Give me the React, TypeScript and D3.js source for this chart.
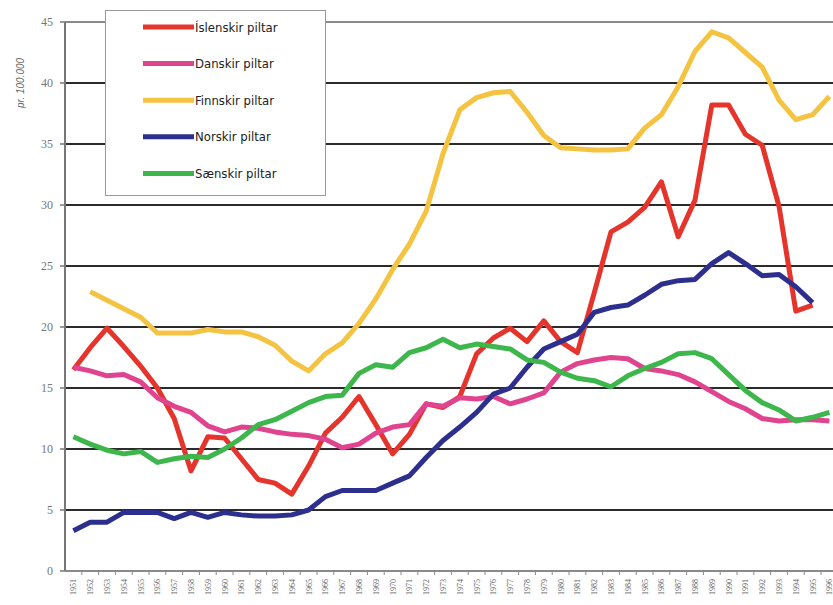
import React from "react";
import * as d3 from "d3";

const years: string[] = d3.range(1951, 1997).map(String);

const iceland: (number | null)[] = [16.5, 18.3, 19.9, 18.4, 16.8, 15.0, 12.5, 8.2, 11.0, 10.9, 9.2, 7.5, 7.2, 6.3, 8.6, 11.3, 12.6, 14.3, 12.0, 9.6, 11.2, 13.7, 13.4, 14.3, 17.8, 19.1, 19.9, 18.8, 20.5, 18.8, 17.9, 22.8, 27.8, 28.6, 29.8, 31.9, 27.4, 30.4, 38.2, 38.2, 35.8, 34.9, 29.9, 21.3, 21.8, null];
const denmark: (number | null)[] = [16.7, 16.4, 16.0, 16.1, 15.5, 14.2, 13.5, 13.0, 11.9, 11.4, 11.8, 11.7, 11.4, 11.2, 11.1, 10.8, 10.1, 10.4, 11.3, 11.8, 12.0, 13.7, 13.5, 14.2, 14.1, 14.3, 13.7, 14.1, 14.6, 16.3, 17.0, 17.3, 17.5, 17.4, 16.6, 16.4, 16.1, 15.5, 14.7, 13.9, 13.3, 12.5, 12.3, 12.4, 12.4, 12.3];
const finland: (number | null)[] = [null, 22.9, 22.2, 21.5, 20.8, 19.5, 19.5, 19.5, 19.8, 19.6, 19.6, 19.2, 18.5, 17.2, 16.4, 17.8, 18.7, 20.3, 22.3, 24.7, 26.8, 29.5, 34.2, 37.8, 38.8, 39.2, 39.3, 37.6, 35.7, 34.7, 34.6, 34.5, 34.5, 34.6, 36.3, 37.4, 39.7, 42.6, 44.2, 43.7, 42.5, 41.3, 38.6, 37.0, 37.4, 38.9];
const norway: (number | null)[] = [3.3, 4.0, 4.0, 4.8, 4.8, 4.8, 4.3, 4.8, 4.4, 4.8, 4.6, 4.5, 4.5, 4.6, 5.0, 6.1, 6.6, 6.6, 6.6, 7.2, 7.8, 9.3, 10.7, 11.8, 13.0, 14.5, 15.0, 16.7, 18.2, 18.8, 19.4, 21.2, 21.6, 21.8, 22.6, 23.5, 23.8, 23.9, 25.2, 26.1, 25.2, 24.2, 24.3, 23.3, 22.0, null];
const sweden: (number | null)[] = [11.0, 10.4, 9.9, 9.6, 9.8, 8.9, 9.2, 9.4, 9.3, 10.0, 10.9, 12.0, 12.4, 13.1, 13.8, 14.3, 14.4, 16.2, 16.9, 16.7, 17.9, 18.3, 19.0, 18.3, 18.6, 18.4, 18.2, 17.3, 17.1, 16.3, 15.8, 15.6, 15.1, 16.0, 16.6, 17.1, 17.8, 17.9, 17.4, 16.1, 14.8, 13.8, 13.2, 12.3, 12.6, 13.0];

const seriesNames = ["Íslenskir piltar", "Danskir piltar", "Finnskir piltar", "Norskir piltar", "Sænskir piltar"];
const seriesValues = [iceland, denmark, finland, norway, sweden];
const seriesColors = ["#e5342b", "#e0448f", "#f5c342", "#2d2f8e", "#3db64c"];

const yTicks = [0, 5, 10, 15, 20, 25, 30, 35, 40, 45];
const yTitle = "pr. 100.000";

export default function App() {
  const W = 833, H = 605;
  const left = 65, top = 22, bottom = 571;
  const step = 16.8;
  const x = d3.scaleBand<string>().domain(years).range([left, left + years.length * step]).padding(0);
  const y = d3.scaleLinear().domain([0, 45]).range([bottom, top]);
  const cx = (yr: string) => (x(yr) as number) + x.bandwidth() / 2;

  const line = d3
    .line<number | null>()
    .defined((d) => d != null)
    .x((_, i) => cx(years[i]))
    .y((d) => y(d as number));

  const legendFont = "'Liberation Sans Narrow', 'DejaVu Sans Condensed', 'Arial Narrow', sans-serif";

  return (
    <svg width={W} height={H} style={{ position: "absolute", left: 0, top: 0, background: "#fff" }}>
      {/* gridlines */}
      {yTicks.filter((t) => t > 0).map((t) => (
        <line key={t} x1={left} x2={W} y1={y(t)} y2={y(t)} stroke={t === 45 ? "#8a8a8a" : "#2b2b2b"} strokeWidth={2} />
      ))}
      {/* y axis */}
      <line x1={left} x2={left} y1={top} y2={bottom} stroke="#777" strokeWidth={2} />
      {yTicks.map((t) => (
        <g key={t}>
          <line x1={left - 5} x2={left} y1={y(t)} y2={y(t)} stroke="#777" strokeWidth={1.5} />
          <text x={53} y={y(t)} dy="0.35em" textAnchor="end" fontFamily="'Liberation Serif', 'DejaVu Serif', serif" fontSize={12} fill="#777">
            {t}
          </text>
        </g>
      ))}
      {/* x axis */}
      <line x1={left} x2={W} y1={bottom} y2={bottom} stroke="#8a8a8a" strokeWidth={2} />
      {years.map((yr) => (
        <line key={"t" + yr} x1={(x(yr) as number) + step} x2={(x(yr) as number) + step} y1={bottom} y2={bottom + 4} stroke="#8a8a8a" strokeWidth={1} />
      ))}
      {years.map((yr) => (
        <text
          key={"l" + yr}
          transform={`translate(${cx(yr) + 3},${bottom + 8}) rotate(-90)`}
          textAnchor="end"
          fontFamily="'Liberation Serif', 'DejaVu Serif', serif"
          fontSize={8}
          fill="#666"
        >
          {yr}
        </text>
      ))}
      {/* y title */}
      <text
        transform={`translate(24,83) rotate(-90)`}
        textAnchor="middle"
        fontFamily="'Liberation Sans', sans-serif"
        fontStyle="italic"
        fontSize={10}
        fill="#666"
      >
        {yTitle}
      </text>
      {/* series lines */}
      {seriesValues.map((vals, si) => (
        <path
          key={si}
          d={line(vals) || ""}
          fill="none"
          stroke={seriesColors[si]}
          strokeWidth={5}
          strokeLinejoin="round"
          strokeLinecap="butt"
        />
      ))}
      {/* legend */}
      <rect x={105.5} y={10.5} width={220} height={185} fill="#fff" stroke="#999" strokeWidth={1} />
      {seriesNames.map((name, i) => {
        const ly = 27 + i * 36.6;
        return (
          <g key={name}>
            <line x1={143} x2={194} y1={ly} y2={ly} stroke={seriesColors[i]} strokeWidth={5} />
            <text x={195} y={ly} dy="0.35em" fontFamily={legendFont} fontSize={13} fill="#222">
              {name}
            </text>
          </g>
        );
      })}
    </svg>
  );
}
